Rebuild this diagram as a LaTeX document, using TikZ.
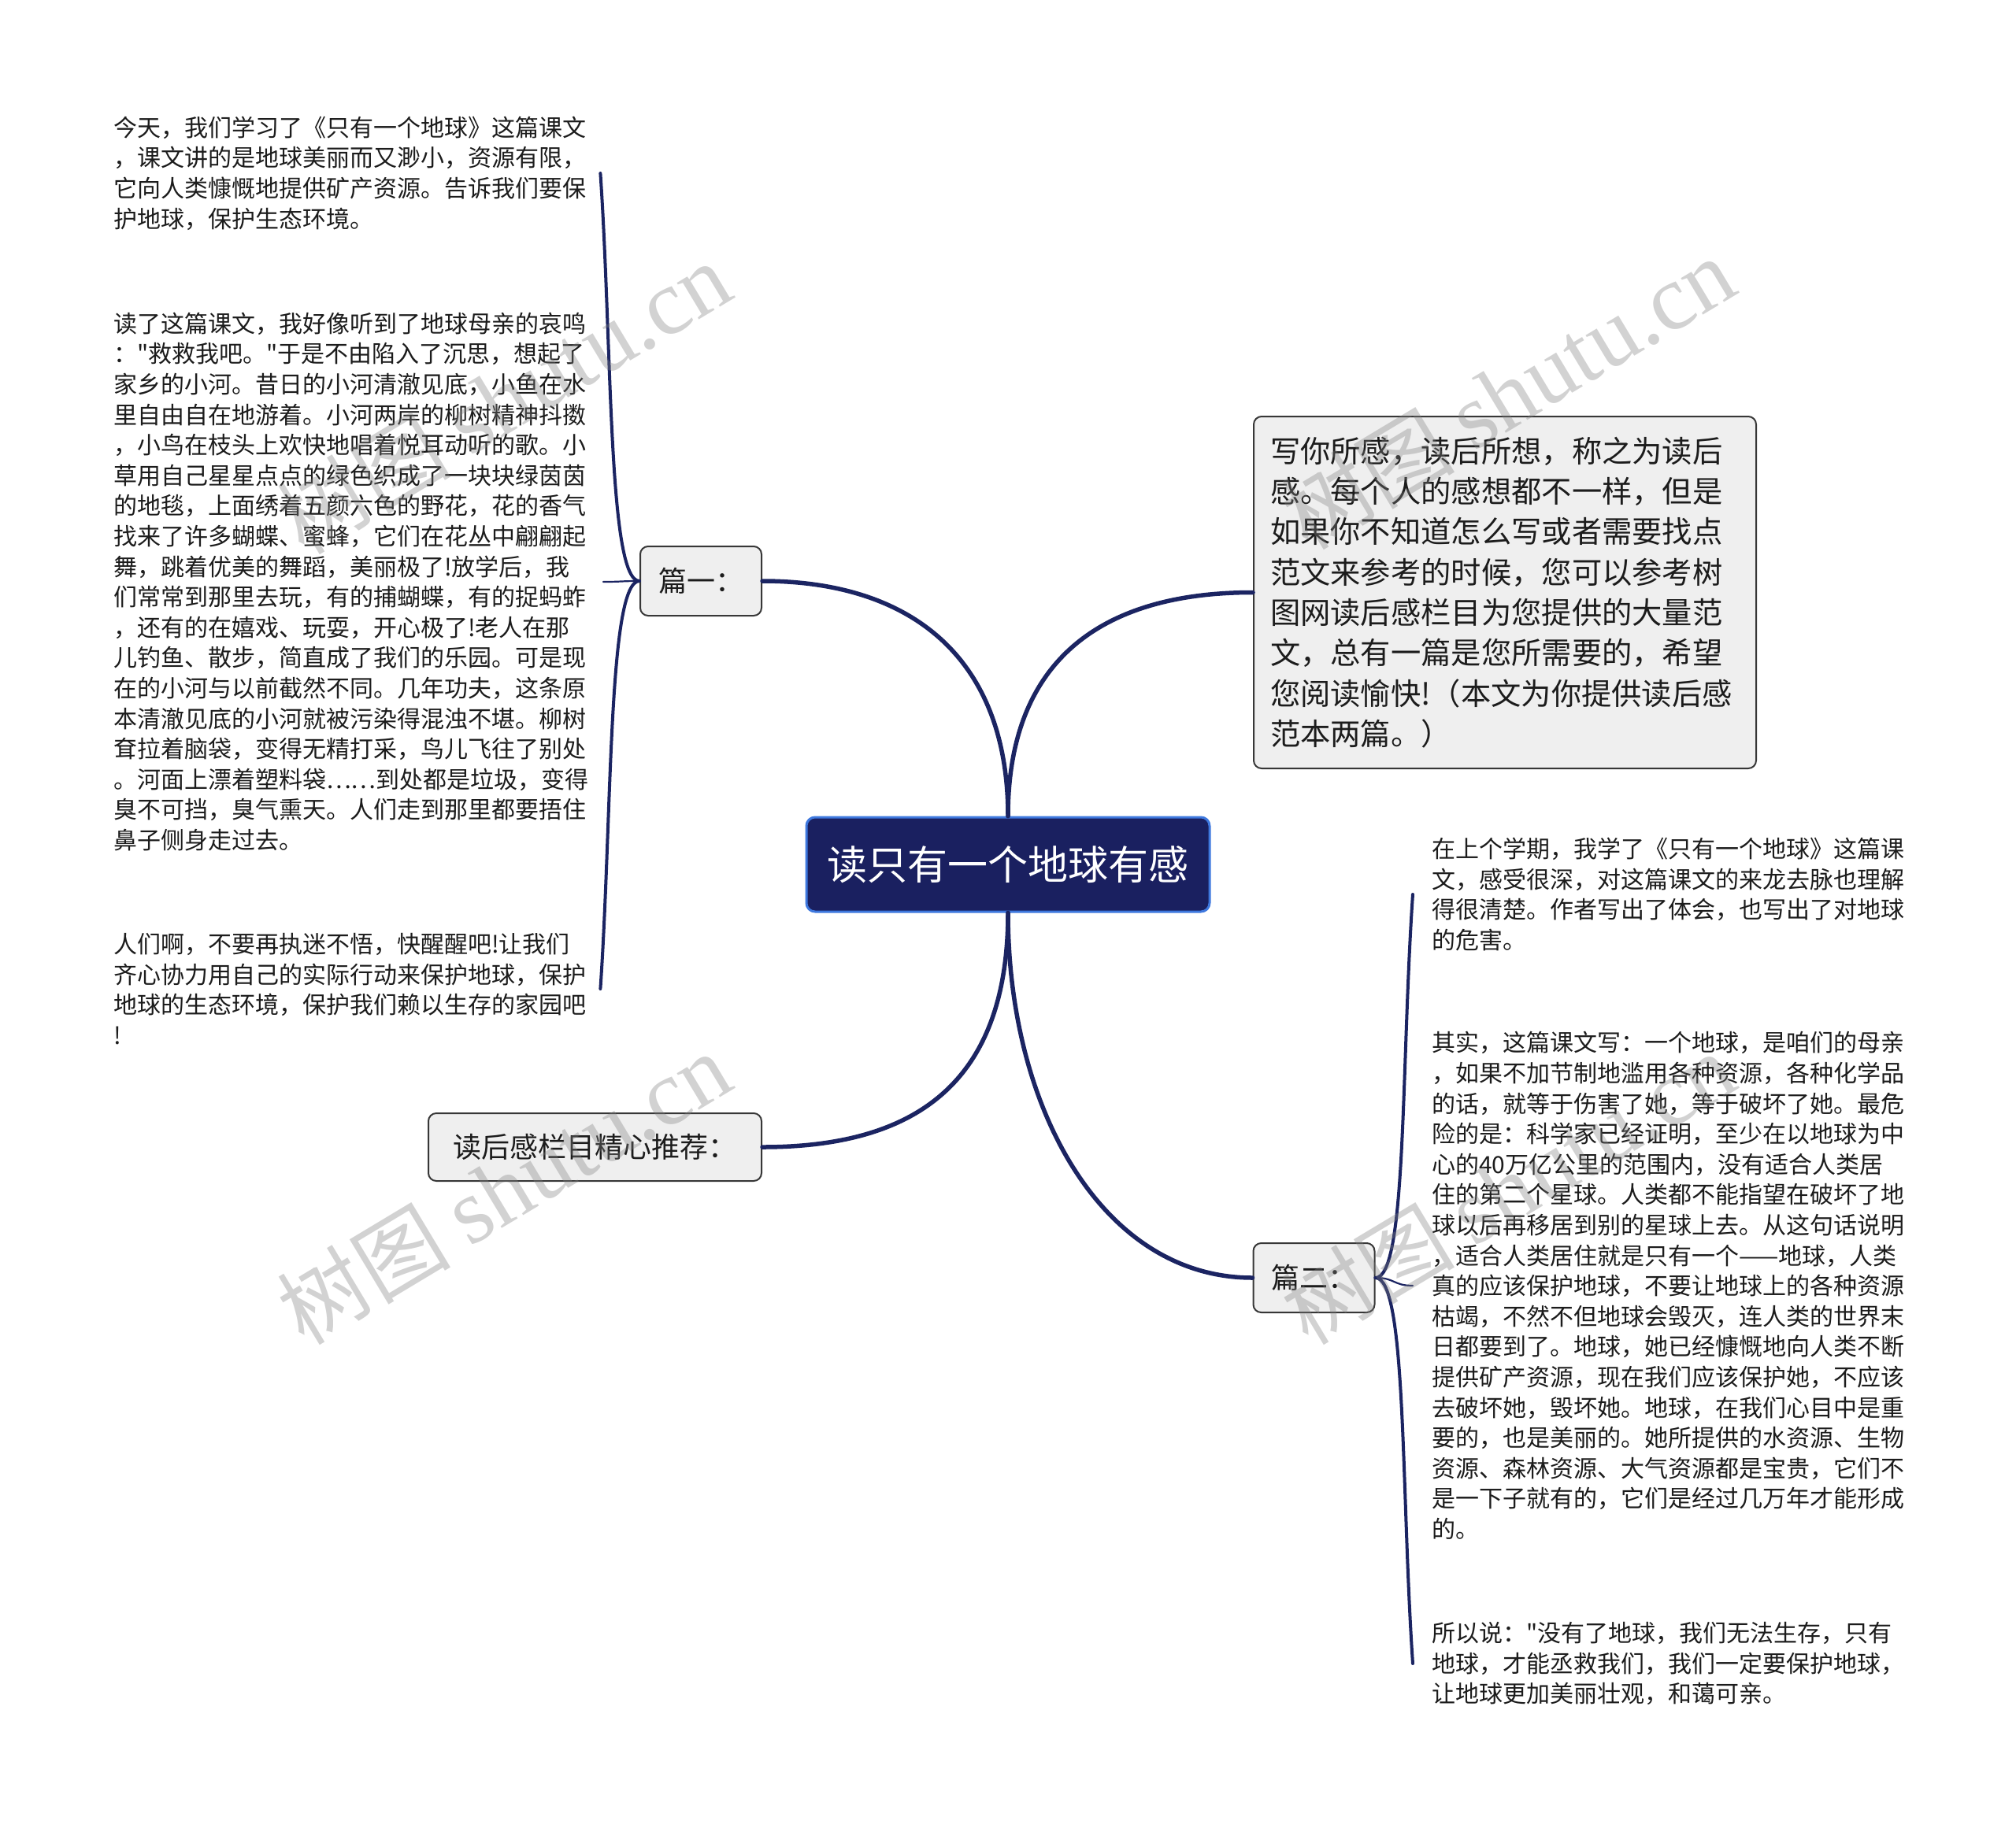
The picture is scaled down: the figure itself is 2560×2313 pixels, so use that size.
\documentclass[tikz,border=0pt]{standalone}
\usepackage{fontspec}
\newfontfamily\cjk{Noto Sans CJK SC}
\newfontfamily\wmlatin{Liberation Serif}
\definecolor{navy}{RGB}{27,36,98}
\definecolor{rootfill}{RGB}{26,32,96}
\definecolor{rootborder}{RGB}{62,120,222}
\definecolor{boxfill}{RGB}{239,239,239}
\definecolor{boxdraw}{RGB}{55,55,55}
\definecolor{txt}{RGB}{28,28,28}
\begin{document}
\begin{tikzpicture}[x=1pt,y=-1pt,
  rootbox/.style={draw=rootborder,fill=rootfill,line width=3pt,rounded corners=11pt,
    minimum width=512pt,minimum height=120pt,inner sep=0pt,text=white,
    font=\cjk\fontsize{51}{60}\selectfont},
  topicbox/.style={draw=boxdraw,fill=boxfill,line width=2pt,rounded corners=10pt,
    minimum height=88pt,inner sep=0pt,text=txt,font=\cjk\fontsize{36}{44}\selectfont},
  bigbox/.style={draw=boxdraw,fill=boxfill,line width=2pt,rounded corners=10pt,
    minimum width=638pt,minimum height=447pt,inner xsep=21pt,inner ysep=0pt,
    text width=596pt,align=left,text=txt,font=\cjk\fontsize{38.3}{51.3}\selectfont},
  leaftext/.style={align=left,inner xsep=18pt,inner ysep=0pt,text=txt,
    font=\cjk\fontsize{30}{38.6}\selectfont},
  rightleaf/.style={leaftext,inner xsep=24pt},
  conn/.style={draw=navy,line width=5.5pt,line cap=round},
  subconn/.style={draw=navy,line width=4pt,line cap=round},
  thinconn/.style={draw=navy,line width=2.2pt,line cap=round},
  wmark/.style={text=gray,text opacity=0.35,rotate=31,inner sep=0pt}
]
\useasboundingbox (0,0) rectangle (2560,2313);
\fill[white] (0,0) rectangle (2560,2313);

% main nodes
\node[rootbox] (root) at (1280,1098) {读只有一个地球有感};
\node[topicbox,minimum width=154pt] (p1) at (890,738) {篇一：};
\node[topicbox,minimum width=423pt,minimum height=86pt] (rec) at (755.5,1457) {读后感栏目精心推荐：};
\node[topicbox,minimum width=154pt] (p2) at (1668.5,1623) {篇二：};
\node[bigbox] (big) at (1911,752.5) {写你所感，读后所想，称之为读后\\
感。每个人的感想都不一样，但是\\
如果你不知道怎么写或者需要找点\\
范文来参考的时候，您可以参考树\\
图网读后感栏目为您提供的大量范\\
文，总有一篇是您所需要的，希望\\
您阅读愉快!（本文为你提供读后感\\
范本两篇。）};

% left texts
\node[leaftext,anchor=west] (a1) at (126,220) {今天，我们学习了《只有一个地球》这篇课文\\
，课文讲的是地球美丽而又渺小，资源有限，\\
它向人类慷慨地提供矿产资源。告诉我们要保\\
护地球，保护生态环境。};
\node[leaftext,anchor=west] (a2) at (126,739) {读了这篇课文，我好像听到了地球母亲的哀鸣\\
："救救我吧。"于是不由陷入了沉思，想起了\\
家乡的小河。昔日的小河清澈见底，小鱼在水\\
里自由自在地游着。小河两岸的柳树精神抖擞\\
，小鸟在枝头上欢快地唱着悦耳动听的歌。小\\
草用自己星星点点的绿色织成了一块块绿茵茵\\
的地毯，上面绣着五颜六色的野花，花的香气\\
找来了许多蝴蝶、蜜蜂，它们在花丛中翩翩起\\
舞，跳着优美的舞蹈，美丽极了!放学后，我\\
们常常到那里去玩，有的捕蝴蝶，有的捉蚂蚱\\
，还有的在嬉戏、玩耍，开心极了!老人在那\\
儿钓鱼、散步，简直成了我们的乐园。可是现\\
在的小河与以前截然不同。几年功夫，这条原\\
本清澈见底的小河就被污染得混浊不堪。柳树\\
耷拉着脑袋，变得无精打采，鸟儿飞往了别处\\
。河面上漂着塑料袋……到处都是垃圾，变得\\
臭不可挡，臭气熏天。人们走到那里都要捂住\\
鼻子侧身走过去。};
\node[leaftext,anchor=west] (a3) at (126,1256) {人们啊，不要再执迷不悟，快醒醒吧!让我们\\
齐心协力用自己的实际行动来保护地球，保护\\
地球的生态环境，保护我们赖以生存的家园吧\\
!};

% right texts
\node[rightleaf,anchor=west] (b1) at (1794,1136) {在上个学期，我学了《只有一个地球》这篇课\\
文，感受很深，对这篇课文的来龙去脉也理解\\
得很清楚。作者写出了体会，也写出了对地球\\
的危害。};
\node[rightleaf,anchor=west] (b2) at (1794,1633) {其实，这篇课文写：一个地球，是咱们的母亲\\
，如果不加节制地滥用各种资源，各种化学品\\
的话，就等于伤害了她，等于破坏了她。最危\\
险的是：科学家已经证明，至少在以地球为中\\
心的40万亿公里的范围内，没有适合人类居\\
住的第二个星球。人类都不能指望在破坏了地\\
球以后再移居到别的星球上去。从这句话说明\\
，适合人类居住就是只有一个——地球，人类\\
真的应该保护地球，不要让地球上的各种资源\\
枯竭，不然不但地球会毁灭，连人类的世界末\\
日都要到了。地球，她已经慷慨地向人类不断\\
提供矿产资源，现在我们应该保护她，不应该\\
去破坏她，毁坏她。地球，在我们心目中是重\\
要的，也是美丽的。她所提供的水资源、生物\\
资源、森林资源、大气资源都是宝贵，它们不\\
是一下子就有的，它们是经过几万年才能形成\\
的。};
\node[rightleaf,anchor=west] (b3) at (1794,2113) {所以说："没有了地球，我们无法生存，只有\\
地球，才能丞救我们，我们一定要保护地球，\\
让地球更加美丽壮观，和蔼可亲。};

% main connectors
\draw[conn] (root.north) .. controls +(0,-200) and +(190,0) .. (p1.east);
\draw[conn] (root.north) .. controls +(0,-200) and +(-190,0) .. (big.west);
\draw[conn] (root.south) .. controls +(0,220) and +(190,0) .. (rec.east);
\draw[conn] (root.south) .. controls +(0,250) and +(-190,0) .. (p2.west);

% sub connectors
\draw[subconn] (p1.west) .. controls +(-40,0) and +(15,220) .. (a1.east);
\draw[thinconn] (p1.west) .. controls +(-25,0) and +(25,0) .. (a2.east);
\draw[subconn] (p1.west) .. controls +(-40,0) and +(15,-220) .. (a3.east);
\draw[subconn] (p2.east) .. controls +(40,0) and +(-15,220) .. (b1.west);
\draw[thinconn] (p2.east) .. controls +(25,0) and +(-25,0) .. (b2.west);
\draw[subconn] (p2.east) .. controls +(40,0) and +(-15,-220) .. (b3.west);

% watermarks
\foreach \wx/\wy [count=\i] in {640/506,1915/500,640/1510,1915/1510}{
  \node[wmark] (wm\i) at (\wx,\wy) {\cjk\fontsize{110}{110}\selectfont 树图\ \wmlatin\fontsize{118}{118}\selectfont shutu.cn};
}
\end{tikzpicture}
\end{document}
